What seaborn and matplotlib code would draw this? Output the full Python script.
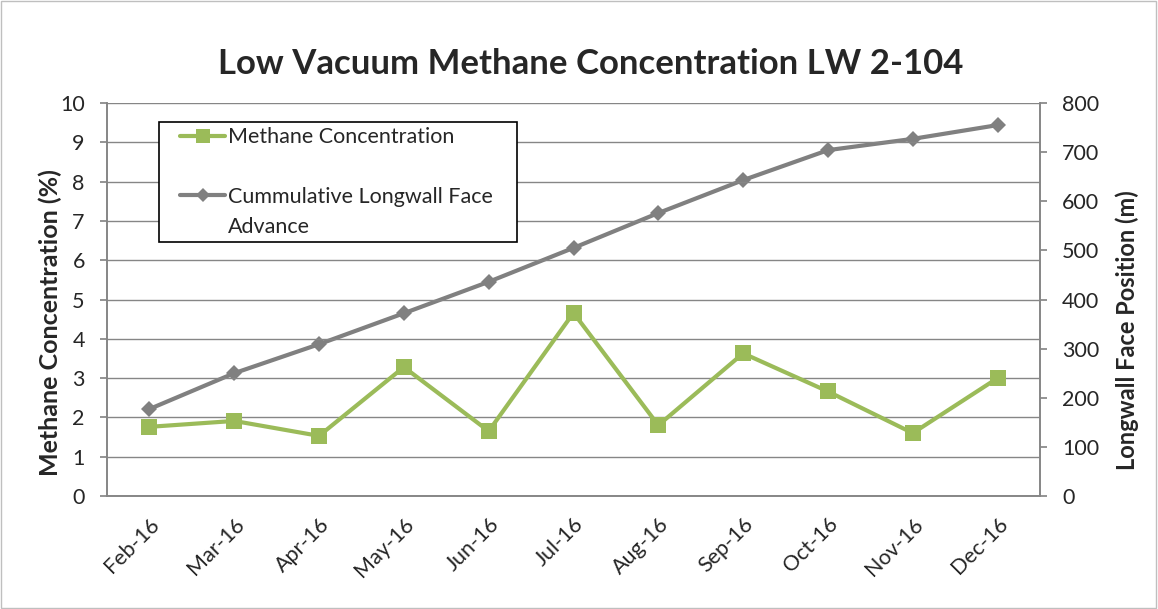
import matplotlib
matplotlib.use("Agg")
import matplotlib.pyplot as plt
import seaborn as sns
import pandas as pd
from matplotlib.lines import Line2D
from matplotlib.patches import Rectangle

months = ["Feb-16", "Mar-16", "Apr-16", "May-16", "Jun-16", "Jul-16",
          "Aug-16", "Sep-16", "Oct-16", "Nov-16", "Dec-16"]
methane = [1.76, 1.91, 1.53, 3.28, 1.65, 4.66, 1.80, 3.63, 2.66, 1.60, 3.00]
face_advance = [177, 250, 309, 372, 436, 505, 576, 643, 704, 727, 755]

sns.set_theme(style="white")
plt.rcParams['font.family'] = ['Lato', 'DejaVu Sans']

df = pd.DataFrame({"idx": range(len(months)), "month": months,
                   "methane": methane, "advance": face_advance})

green = "#9BBB59"
gray = "#808080"
gridc = "#868686"

fig = plt.figure(figsize=(11.58, 6.09), dpi=100)
ax = fig.add_axes([107/1158, 1 - 496/609, (1040-107)/1158, (496-103)/609])
ax2 = ax.twinx()

sns.lineplot(data=df, x="idx", y="advance", ax=ax2, color=gray, linewidth=3.0,
             marker="D", markersize=8.5, markeredgewidth=0, zorder=3)
sns.lineplot(data=df, x="idx", y="methane", ax=ax, color=green, linewidth=3.0,
             marker="s", markersize=11.5, markeredgewidth=0, zorder=3)

ax.set_zorder(ax2.get_zorder() + 1)
ax.patch.set_visible(False)

ax.set_xlim(-0.5, len(months) - 0.5)
ax.set_ylim(0, 10)
ax.set_yticks(range(0, 11))
ax2.set_ylim(0, 800)
ax2.set_yticks(range(0, 801, 100))

ax.set_xticks(range(len(months)))
ax.set_xticklabels(months, rotation=45, ha="right", rotation_mode="anchor", fontsize=15.5)
ax.set_xticks([i - 0.5 for i in range(len(months) + 1)], minor=True)
ax.tick_params(axis="x", which="major", length=0, pad=13)
ax.tick_params(axis="x", which="minor", length=6, color=gridc, width=1, direction="out")
ax.tick_params(axis="y", labelsize=15.5, length=5, color=gridc, direction="out", left=True, pad=11)
ax2.tick_params(axis="y", labelsize=15.5, length=5, color=gridc, direction="out", right=True, pad=11)
ax2.tick_params(axis="x", length=0)

ax.grid(axis="y", color=gridc, linewidth=1)
ax.grid(axis="x", visible=False)
ax2.grid(False)

for a in (ax, ax2):
    a.spines["top"].set_visible(False)
    for s in ("left", "right", "bottom"):
        a.spines[s].set_color(gridc)
        a.spines[s].set_linewidth(1.2)

ax.set_xlabel("")
ax.set_ylabel("Methane Concentration (%)", fontsize=18, fontweight="bold",
              va="center", ha="center")
ax.yaxis.set_label_coords((50 - 107) / 933, (496 - 323) / 393)
ax2.set_ylabel("Longwall Face Position (m)", fontsize=17, fontweight="bold",
               va="center", ha="center", rotation=90)
ax2.yaxis.set_label_coords((1127 - 107) / 933, (496 - 330) / 393)

fig.text(591/1158, 1 - 64/609, "Low Vacuum Methane Concentration LW 2-104",
         ha="center", va="center", fontsize=25, fontweight="bold")

# legend box
fig.patches.append(Rectangle((159/1158, 1 - 242/609), (517-159)/1158, 120/609,
                             transform=fig.transFigure, facecolor="white",
                             edgecolor="black", linewidth=1.2, zorder=10))

blank = Line2D([], [], color="none")
handles = [Line2D([], [], color=green, lw=3.0, marker="s", markersize=10, markeredgewidth=0),
           blank,
           Line2D([], [], color=gray, lw=3.0, marker="D", markersize=7.5, markeredgewidth=0),
           blank]
labels = ["Methane Concentration", " ", "Cummulative Longwall Face", "Advance"]
leg = fig.legend(handles, labels, loc="center left",
                 bbox_to_anchor=(180/1158, 1 - 182/609), borderaxespad=0,
                 fontsize=15.5, frameon=False, labelspacing=0.45,
                 handlelength=2.1, handletextpad=0.15, borderpad=0)
leg.set_zorder(11)

fig.patches.append(Rectangle((0.001, 0.002), 0.997, 0.996, transform=fig.transFigure,
                             fill=False, edgecolor="#BFBFBF", linewidth=1))

fig.savefig("out.png", dpi=100)
